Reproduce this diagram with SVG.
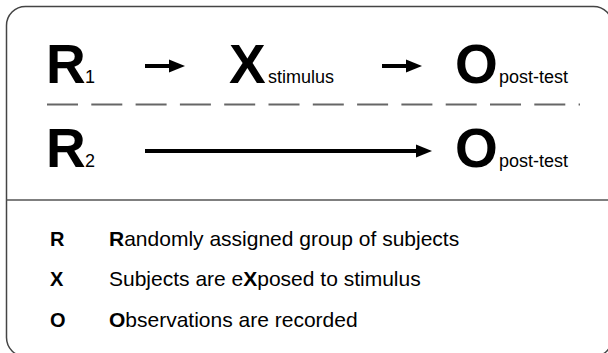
<svg xmlns="http://www.w3.org/2000/svg" width="608" height="353" viewBox="0 0 608 353">
  <defs>
    <style>
      .big { font-family: "Liberation Sans", Arial, sans-serif; font-weight: bold; font-size: 55px; fill: #000; }
      .sub { font-family: "Liberation Sans", Arial, sans-serif; font-size: 18px; fill: #000; }
      .leg { font-family: "Liberation Sans", Arial, sans-serif; font-size: 21px; fill: #000; }
      .legk { font-family: "Liberation Sans", Arial, sans-serif; font-size: 20px; font-weight: bold; fill: #000; }
      .frame { fill: #fff; stroke: #444; stroke-width: 1.5; }
      .arrow { stroke: #000; stroke-width: 4; fill: none; }
      .head { fill: #000; }
    </style>
  </defs>
  <rect x="0" y="0" width="608" height="353" fill="#fff"/>
  <rect class="frame" x="6.5" y="6.5" width="606" height="350" rx="19" ry="19"/>
  <line x1="6.5" y1="200" x2="608" y2="200" stroke="#555" stroke-width="1.5"/>
  <line x1="47" y1="104.5" x2="580" y2="104.5" stroke="#666" stroke-width="2" stroke-dasharray="31 13.3"/>

  <g id="R1">
    <text class="big" x="46" y="83">R</text>
    <text class="sub" x="85" y="83">1</text>
  </g>
  <g id="X">
    <text class="big" x="229" y="83">X</text>
    <text class="sub" x="268" y="83">stimulus</text>
  </g>
  <g id="O1">
    <text class="big" x="455" y="83">O</text>
    <text class="sub" x="499" y="83">post-test</text>
  </g>
  <g id="R2">
    <text class="big" x="46" y="167">R</text>
    <text class="sub" x="85" y="167">2</text>
  </g>
  <g id="O2">
    <text class="big" x="455" y="167">O</text>
    <text class="sub" x="499" y="167">post-test</text>
  </g>

  <g id="connectors">
    <line class="arrow" x1="145" y1="66" x2="171" y2="66"/>
    <polygon class="head" points="169,59.5 185,66 169,72.5"/>
    <line class="arrow" x1="382" y1="66" x2="408" y2="66"/>
    <polygon class="head" points="406,59.5 422,66 406,72.5"/>
    <line class="arrow" x1="145" y1="151" x2="418" y2="151"/>
    <polygon class="head" points="416,144.5 432,151 416,157.5"/>
  </g>

  <g id="legend">
    <text class="legk" x="50" y="246">R</text>
    <text class="leg" x="109" y="246"><tspan font-weight="bold">R</tspan>andomly assigned group of subjects</text>
    <text class="legk" x="50" y="286">X</text>
    <text class="leg" x="109" y="286">Subjects are e<tspan font-weight="bold">X</tspan>posed to stimulus</text>
    <text class="legk" x="50" y="327">O</text>
    <text class="leg" x="109" y="327"><tspan font-weight="bold">O</tspan>bservations are recorded</text>
  </g>
</svg>
